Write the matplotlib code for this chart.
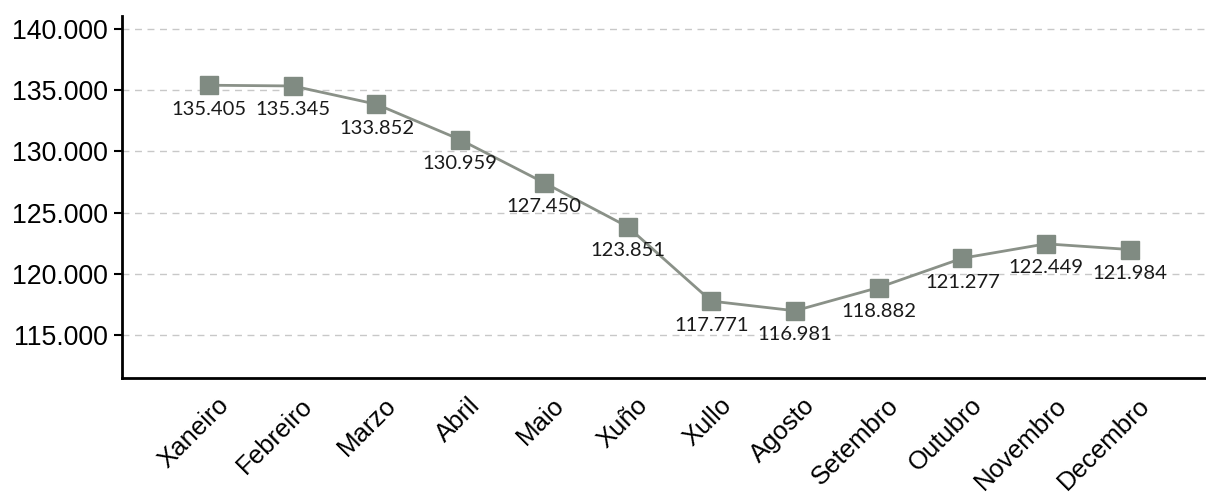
import matplotlib
matplotlib.use("Agg")
import matplotlib.pyplot as plt
from matplotlib.ticker import FuncFormatter
from matplotlib.transforms import ScaledTranslation

months = ["Xaneiro", "Febreiro", "Marzo", "Abril", "Maio", "Xuño", "Xullo",
          "Agosto", "Setembro", "Outubro", "Novembro", "Decembro"]
values = [135405, 135345, 133852, 130959, 127450, 123851, 117771,
          116981, 118882, 121277, 122449, 121984]
yticks = [115000, 120000, 125000, 130000, 135000, 140000]

def fmt(v):
    return f"{v:,.0f}".replace(",", ".")

fig = plt.figure(figsize=(12.06, 4.96), dpi=100)
ax = fig.add_axes([122/1206, (496-378)/496, (1206-122)/1206, (378-16)/496])

x = list(range(len(months)))
ax.plot(x, values, color="#8a9188", lw=2, marker="s", markersize=13,
        markerfacecolor="#808b82", markeredgecolor="#808b82", zorder=3)
for xi, v in zip(x, values):
    ax.annotate(fmt(v), (xi, v), xytext=(0, -24), textcoords="offset pixels",
                ha="center", va="center", fontsize=14.5, family="Lato", color="#1a1a1a")

ax.set_xlim(-1.04, 11.91)
ax.set_ylim(111490, 141060)
ax.set_yticks(yticks)
ax.yaxis.set_major_formatter(FuncFormatter(lambda v, p: fmt(v)))
ax.tick_params(axis="y", labelsize=19.2, length=6, width=1.5, direction="out", pad=4)
for lab in ax.get_yticklabels():
    lab.set_family("Liberation Sans")
ax.grid(axis="y", color="#c8c8c8", linestyle=(0, (5, 4)), lw=1)
ax.set_axisbelow(True)
ax.set_xticks(x)
ax.set_xticklabels(months, rotation=45, ha="right", rotation_mode="anchor",
                   fontsize=18.5, family="Liberation Sans")
ax.tick_params(axis="x", length=0, pad=11)
for lab in ax.get_xticklabels():
    lab.set_transform(lab.get_transform() + ScaledTranslation(0.08, 0, fig.dpi_scale_trans))
for s in ["top", "right"]:
    ax.spines[s].set_visible(False)
for s in ["left", "bottom"]:
    ax.spines[s].set_linewidth(2)
    ax.spines[s].set_color("black")

fig.savefig("out.png", dpi=100)
